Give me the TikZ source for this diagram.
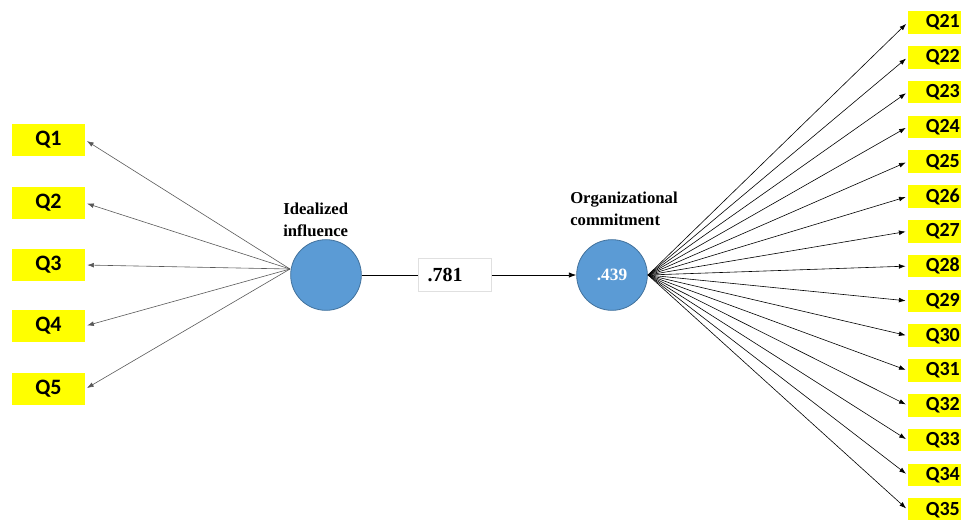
\documentclass[tikz,border=0pt]{standalone}
\usepackage{fontspec}
\setmainfont{Liberation Serif}
\newfontfamily\qfont{Carlito}
\usetikzlibrary{arrows.meta}
\definecolor{circfill}{HTML}{5B9BD5}
\definecolor{circline}{HTML}{41719C}
\definecolor{qyellow}{HTML}{FFFF00}
\begin{document}
\begin{tikzpicture}[x=0.75pt,y=-0.75pt,
  lqbox/.style={fill=qyellow, minimum width=54.75pt, minimum height=24pt, inner sep=0pt,
    font=\qfont\bfseries\fontsize{16.5}{16.5}\selectfont},
  rqbox/.style={fill=qyellow, minimum height=17pt, text width=38pt, align=right, inner sep=1pt,
    font=\qfont\bfseries\fontsize{15}{15}\selectfont},
  latent/.style={circle, fill=circfill, draw=circline, line width=0.6pt, minimum size=53pt, inner sep=0pt},
  lbl/.style={font=\bfseries\fontsize{12.5}{16}\selectfont, align=left, inner sep=0pt},
  larr/.style={draw=black!65, line width=0.45pt, -{Latex[length=5pt,width=3.6pt]}},
  rarr/.style={draw=black, line width=0.45pt, -{Latex[length=5pt,width=3.6pt]}}
]
\useasboundingbox (0,0) rectangle (971,519);

% latent variables
\node[latent] (ii) at (326,275) {};
\node[latent, font=\bfseries\fontsize{13}{13}\selectfont, text=white] (oc) at (612,275) {.439};

\node[lbl, anchor=north west] (iilab) at (283,203) {Idealized\\influence};
\node[lbl, anchor=north west] (oclab) at (570,192) {Organizational\\commitment};

% path coefficient
\node[draw=black!12, fill=white, minimum height=25pt, inner ysep=0pt, inner xsep=6.75pt,
      text width=41.25pt, align=left,
      font=\bfseries\fontsize{15}{15}\selectfont] (coef) at (455,275) {.781};
\draw[black, line width=0.6pt] (ii.east) -- (coef.west);
\draw[black, line width=0.6pt, -{Latex[length=5.5pt,width=4pt]}] (coef.east) -- (oc.west);

% left indicators
\coordinate (iiw) at (290,269);
\foreach \n/\y in {1/140,2/203,3/265,4/326,5/389}{
  \node[lqbox] (q\n) at (48.5,\y) {Q\n};
  \draw[larr, shorten >=1.5pt] (iiw) -- (q\n.east);
}

% right indicators
\coordinate (oce) at (648,275);
\foreach \i in {0,...,14}{
  \pgfmathtruncatemacro{\num}{21+\i}
  \pgfmathsetmacro{\yy}{22.5+\i*34.8}
  \node[rqbox] (q\num) at (934.5,\yy) {Q\num};
  \draw[rarr, shorten >=1.5pt] (oce) -- (q\num.west);
}
\end{tikzpicture}
\end{document}
